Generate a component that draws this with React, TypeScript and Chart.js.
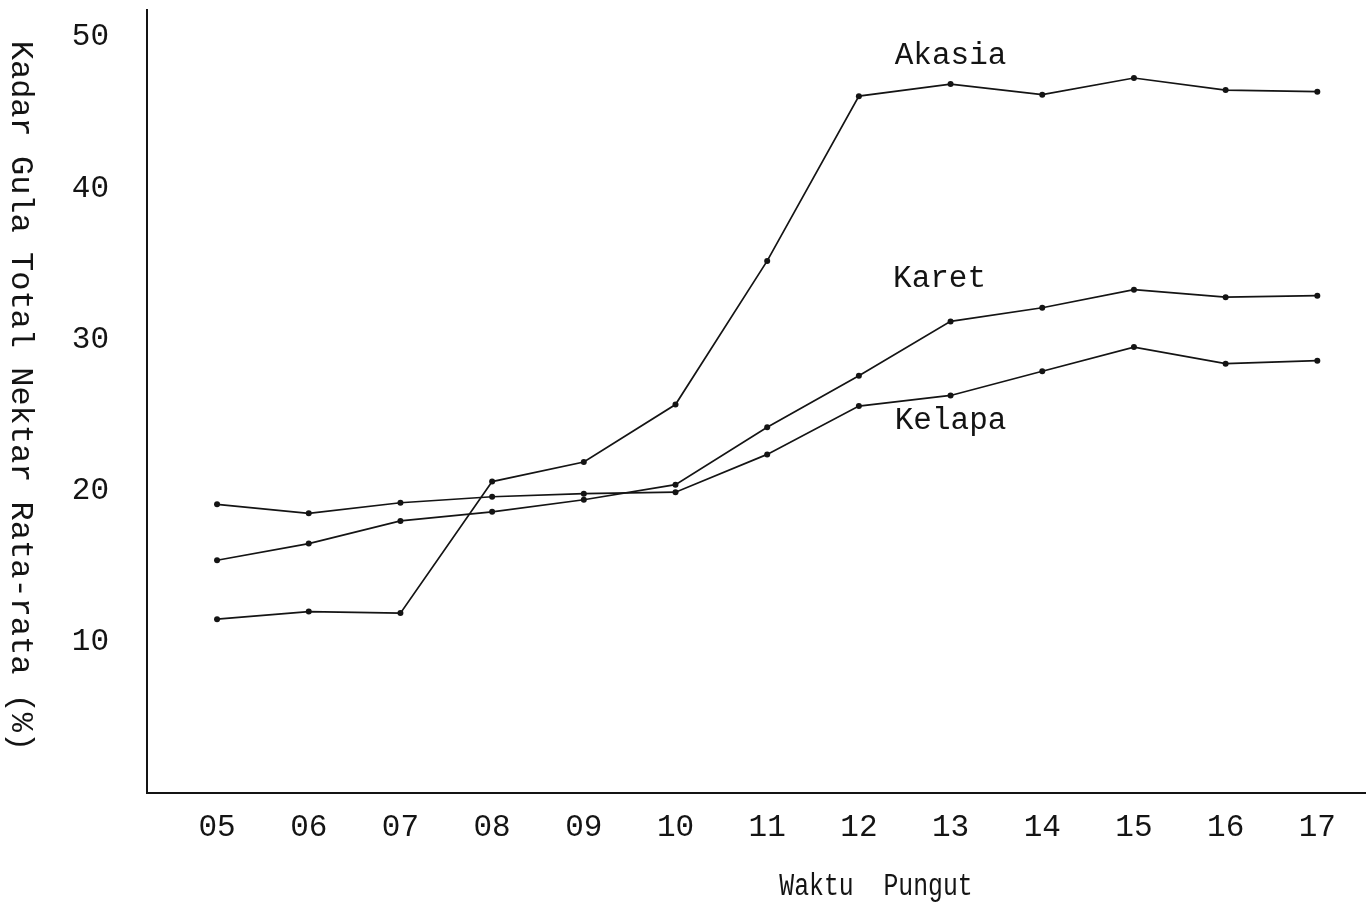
import React, { useEffect, useRef } from "react";
import { Chart, registerables } from "chart.js";

Chart.register(...registerables);

const categories = ["05", "06", "07", "08", "09", "10", "11", "12", "13", "14", "15", "16", "17"];
const akasia = [11.5, 12.0, 11.9, 20.6, 21.9, 25.7, 35.2, 46.1, 46.9, 46.2, 47.3, 46.5, 46.4];
const karet = [15.4, 16.5, 18.0, 18.6, 19.4, 20.4, 24.2, 27.6, 31.2, 32.1, 33.3, 32.8, 32.9];
const kelapa = [19.1, 18.5, 19.2, 19.6, 19.8, 19.9, 22.4, 25.6, 26.3, 27.9, 29.5, 28.4, 28.6];
const yTicks = [10, 20, 30, 40, 50];
const seriesNames = ["Akasia", "Karet", "Kelapa"];
const labelAnchorX = [13, 12.88, 13];
const labelAnchorY = [48.8, 34.0, 24.6];
const xTitle = "Waktu  Pungut";
const yTitle = "Kadar Gula Total Nektar Rata-rata (%)";

const FONT = "'Liberation Mono', 'Courier New', monospace";
const INK = "#141414";

export default function App() {
  const ref = useRef<HTMLCanvasElement | null>(null);

  useEffect(() => {
    document.body.style.margin = "0";
    const canvas = ref.current;
    if (!canvas) return;

    const textPlugin = {
      id: "textPlugin",
      afterDraw(chart: any) {
        const ctx = chart.ctx;
        const xs = chart.scales.x;
        const ys = chart.scales.y;
        ctx.save();
        ctx.fillStyle = INK;
        ctx.font = `31px ${FONT}`;
        ctx.textAlign = "center";
        ctx.textBaseline = "middle";
        seriesNames.forEach((n, i) => {
          ctx.fillText(n, xs.getPixelForValue(labelAnchorX[i]), ys.getPixelForValue(labelAnchorY[i]));
        });
        ctx.save();
        ctx.translate(876, 887);
        ctx.scale(0.8, 1);
        ctx.font = `31px ${FONT}`;
        ctx.fillText(xTitle, 0, 0);
        ctx.restore();
        ctx.translate(20, 396);
        ctx.rotate(Math.PI / 2);
        ctx.font = `32px ${FONT}`;
        ctx.fillText(yTitle, 0, 0);
        ctx.restore();
      },
    };

    const ds = (label: string, data: number[]) => ({
      label,
      data,
      borderColor: INK,
      backgroundColor: INK,
      borderWidth: 1.7,
      pointRadius: 3,
      pointBackgroundColor: INK,
      pointBorderWidth: 0,
      tension: 0,
    });

    const chart = new Chart(canvas, {
      type: "line",
      data: {
        labels: categories,
        datasets: [ds("Akasia", akasia), ds("Karet", karet), ds("Kelapa", kelapa)],
      },
      plugins: [textPlugin],
      options: {
        animation: false,
        responsive: false,
        maintainAspectRatio: false,
        layout: { padding: { top: 10, right: 6, left: 0, bottom: 0 } },
        plugins: { legend: { display: false }, tooltip: { enabled: false } },
        scales: {
          x: {
            type: "linear",
            min: 4.236,
            max: 17.52,
            afterBuildTicks: (s: any) => {
              s.ticks = categories.map((c) => ({ value: +c }));
            },
            afterFit: (s: any) => {
              s.height = 120;
              s.paddingLeft = 0;
              s.paddingRight = 0;
            },
            grid: { display: false, drawTicks: false },
            border: { display: true, color: INK, width: 2 },
            ticks: {
              autoSkip: false,
              maxRotation: 0,
              padding: 16,
              color: INK,
              font: { family: FONT, size: 31 },
              callback: (v: any) => String(v).padStart(2, "0"),
            },
          },
          y: {
            type: "linear",
            min: 0,
            max: 51.8,
            afterBuildTicks: (s: any) => {
              s.ticks = yTicks.map((v) => ({ value: v }));
            },
            afterFit: (s: any) => {
              s.width = 147;
              s.paddingTop = 0;
              s.paddingBottom = 0;
            },
            grid: { display: false, drawTicks: false },
            border: { display: true, color: INK, width: 2 },
            ticks: {
              padding: 38,
              color: INK,
              font: { family: FONT, size: 31 },
            },
          },
        },
      },
    } as any);

    return () => chart.destroy();
  }, []);

  return (
    <div style={{ position: "relative", width: 1371, height: 913, background: "#fff" }}>
      <canvas ref={ref} width={1371} height={913} style={{ display: "block" }} />
    </div>
  );
}
